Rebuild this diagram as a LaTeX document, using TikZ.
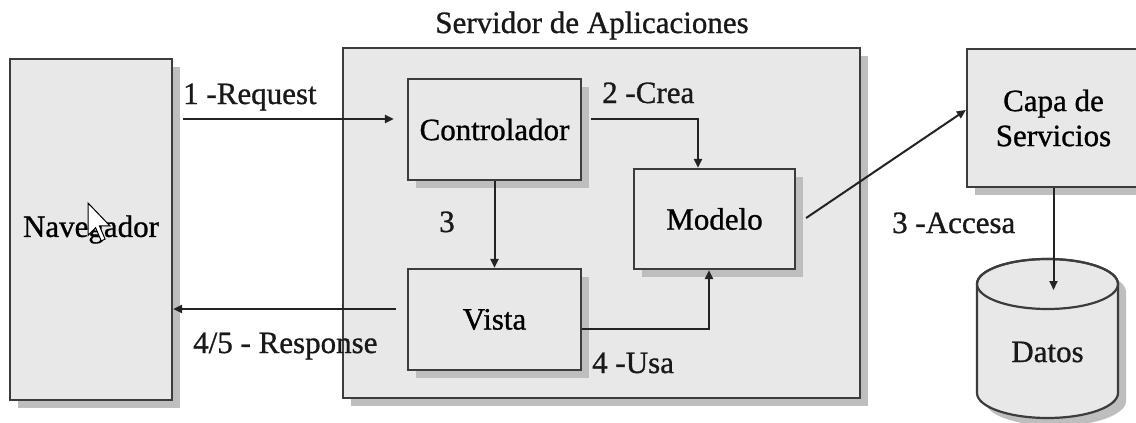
\documentclass[tikz,border=0pt]{standalone}
\usepackage{fontspec}
\setmainfont{Liberation Serif}
\newfontfamily\heavyserif{Liberation Serif}[FakeBold=0.9]
\usetikzlibrary{arrows.meta,shadows,calc}
\definecolor{boxfill}{RGB}{232,232,232}
\definecolor{boxline}{RGB}{60,60,60}
\definecolor{shadowgray}{RGB}{190,190,190}
\definecolor{linecol}{RGB}{35,35,35}
\tikzset{
  box/.style={draw=boxline, line width=2.2pt, fill=boxfill, inner sep=0pt,
    font=\heavyserif\fontsize{31}{35}\selectfont, align=center,
    drop shadow={shadow xshift=8pt, shadow yshift=-8pt, fill=shadowgray, opacity=1}},
  lbl/.style={font=\heavyserif\fontsize{31}{35}\selectfont, inner sep=0pt, text=black!90},
  arr/.style={draw=linecol, line width=2pt, -{Triangle[length=9pt,width=8pt]}},
}
\begin{document}
\begin{tikzpicture}[x=1pt,y=-1pt]
\useasboundingbox (0,0) rectangle (1136,423);
\clip (0,0) rectangle (1136,423);
\fill[white] (0,0) rectangle (1136,423);

% main boxes
\node[box, minimum width=162pt, minimum height=341pt] (nav) at (91,229.5) {Navegador};
\node[box, minimum width=517pt, minimum height=350pt] (srv) at (601.5,223) {};
\node[lbl, anchor=base] (title) at (592,33) {Servidor de Aplicaciones};

\node[box, minimum width=173pt, minimum height=101pt] (ctrl) at (494.5,129.5) {Controlador};
\node[box, minimum width=173pt, minimum height=101pt] (vista) at (494.5,319.5) {Vista};
\node[box, minimum width=161pt, minimum height=100pt] (modelo) at (714.5,219) {Modelo};

\node[box, minimum width=173pt, minimum height=138pt] (capa) at (1053.5,118) {Capa de\\Servicios};

% Datos cylinder
\coordinate (datos) at (1047.5,284);
\fill[shadowgray] (985,292) -- (985,401) arc[start angle=180, end angle=360, x radius=70.5pt, y radius=25pt]
  -- (1126,292) arc[start angle=0, end angle=180, x radius=70.5pt, y radius=25pt] -- cycle;
\filldraw[fill=boxfill, draw=boxline, line width=2.2pt] (977,284) -- (977,393)
  arc[start angle=180, end angle=360, x radius=70.5pt, y radius=25pt]
  -- (1118,284) arc[start angle=0, end angle=180, x radius=70.5pt, y radius=25pt] -- cycle;
\draw[boxline, line width=2.2pt] (datos) ellipse[x radius=70.5pt, y radius=25pt];
\node[lbl, anchor=base] (datoslbl) at (1047.5,362) {Datos};

% cursor
\begin{scope}[shift={(88,203)}, scale=1.9]
  \filldraw[fill=white, draw=black, line width=1pt] (0,0) -- (0,17) -- (4,13) -- (7,20) -- (9,19) -- (6,12) -- (11.5,12) -- cycle;
\end{scope}

% connectors
\coordinate (reqy) at (0,119);
\coordinate (resy) at (0,309);
\draw[arr] ([xshift=10pt]nav.east |- reqy) -- ([xshift=-13pt]ctrl.west |- reqy);
\draw[arr] ([xshift=-11pt]vista.west |- resy) -- (nav.east |- resy);
\draw[arr] ([xshift=9pt]ctrl.east |- reqy) -| ([xshift=-16.5pt]modelo.north);
\draw[arr] (ctrl.south) -- (vista.north);
\draw[arr] ([yshift=-9.5pt]vista.east) -| ([xshift=-5.5pt]modelo.south);
\draw[arr] ([xshift=10pt,yshift=1pt]modelo.east) -- ([yshift=8pt]capa.west);
\draw[arr] (capa.south) -- ([yshift=-6pt]capa.south |- datos);

% labels
\node[lbl, anchor=base west] (l1) at (183,104) {1 -Request};
\node[lbl, anchor=base west] (l2) at (602,103) {2 -Crea};
\node[lbl, anchor=base] (l3) at (447,232) {3};
\node[lbl, anchor=base west] (l4) at (592,373) {4 -Usa};
\node[lbl, anchor=base west] (l5) at (193,353) {4/5 - Response};
\node[lbl, anchor=base west] (l6) at (892,233) {3 -Accesa};
\end{tikzpicture}
\end{document}
